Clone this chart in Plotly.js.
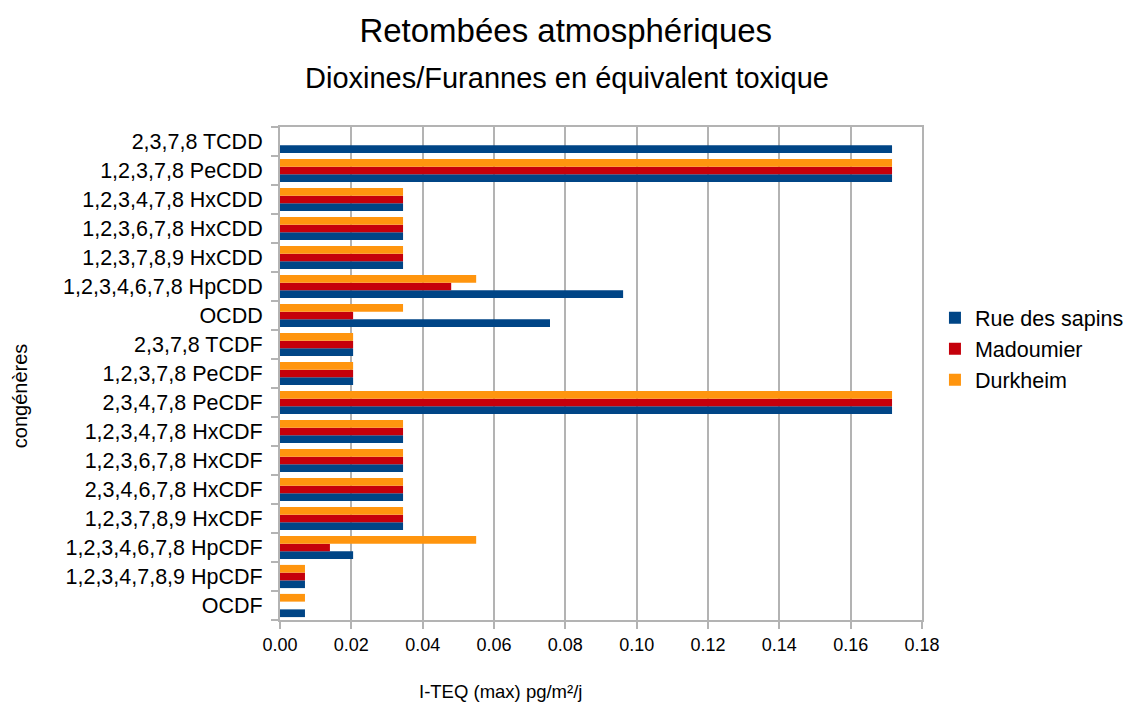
<!DOCTYPE html>
<html>
<head>
<meta charset="utf-8">
<script src="https://cdn.plot.ly/plotly-3.0.1.min.js"></script>
<style>html,body{margin:0;padding:0;background:#fff;}#chart{width:1127px;height:702px;}</style>
</head>
<body>
<div id="chart"></div>
<script>
const categories = [
  "2,3,7,8 TCDD", "1,2,3,7,8 PeCDD", "1,2,3,4,7,8 HxCDD", "1,2,3,6,7,8 HxCDD",
  "1,2,3,7,8,9 HxCDD", "1,2,3,4,6,7,8 HpCDD", "OCDD", "2,3,7,8 TCDF",
  "1,2,3,7,8 PeCDF", "2,3,4,7,8 PeCDF", "1,2,3,4,7,8 HxCDF", "1,2,3,6,7,8 HxCDF",
  "2,3,4,6,7,8 HxCDF", "1,2,3,7,8,9 HxCDF", "1,2,3,4,6,7,8 HpCDF", "1,2,3,4,7,8,9 HpCDF", "OCDF"
];
const rueDesSapins = [0.1716, 0.1716, 0.0345, 0.0345, 0.0345, 0.0962, 0.0757, 0.0205,
  0.0205, 0.1716, 0.0345, 0.0345, 0.0345, 0.0345, 0.0205, 0.007, 0.007];
const madoumier = [null, 0.1716, 0.0345, 0.0345, 0.0345, 0.048, 0.0205, 0.0205,
  0.0205, 0.1716, 0.0345, 0.0345, 0.0345, 0.0345, 0.014, 0.007, null];
const durkheim = [null, 0.1716, 0.0345, 0.0345, 0.0345, 0.055, 0.0345, 0.0205,
  0.0205, 0.1716, 0.0345, 0.0345, 0.0345, 0.0345, 0.055, 0.007, 0.007];
const seriesNames = ["Rue des sapins", "Madoumier", "Durkheim"];
const seriesColors = ["#004586", "#c5000b", "#ff950e"];
const xTickVals = [0, 0.02, 0.04, 0.06, 0.08, 0.10, 0.12, 0.14, 0.16, 0.18];
const xTickText = ["0.00", "0.02", "0.04", "0.06", "0.08", "0.10", "0.12", "0.14", "0.16", "0.18"];

const values = [rueDesSapins, madoumier, durkheim];
const traces = values.map((v, i) => ({
  type: "bar", orientation: "h", name: seriesNames[i],
  x: v, y: categories, marker: {color: seriesColors[i]},
  hoverinfo: "x+y+name"
}));

const font = {family: "Liberation Sans, Arial, sans-serif", color: "#000"};
const layout = {
  width: 1127, height: 702,
  paper_bgcolor: "#fff", plot_bgcolor: "#fff",
  font: Object.assign({size: 16}, font),
  margin: {l: 280, r: 205, t: 127, b: 82, autoexpand: false},
  barmode: "group", bargap: 0.2, bargroupgap: 0,
  title: {text: "Retombées atmosphériques", x: 0.502, xref: "container", xanchor: "center", y: 0.957, yanchor: "middle",
    font: Object.assign({}, font, {size: 33})},
  annotations: [{
    text: "Dioxines/Furannes en équivalent toxique", xref: "paper", yref: "paper",
    x: 0.447, y: 1, xanchor: "center", yanchor: "middle", yshift: 49, showarrow: false,
    font: Object.assign({}, font, {size: 29})
  }, {
    text: "I-TEQ (max) pg/m²/j", xref: "paper", yref: "paper",
    x: 0.344, y: -0.146, xanchor: "center", yanchor: "middle", showarrow: false,
    font: Object.assign({}, font, {size: 18.5})
  }, {
    text: "congénères", xref: "paper", yref: "paper", textangle: -90,
    x: -0.405, y: 0.456, xanchor: "center", yanchor: "middle", showarrow: false,
    font: Object.assign({}, font, {size: 20})
  }],
  xaxis: {
    range: [0, 0.18], tickvals: xTickVals, ticktext: xTickText,
    showgrid: true, gridcolor: "#b3b3b3", gridwidth: 2,
    showline: true, linecolor: "#b3b3b3", linewidth: 2, mirror: true,
    ticks: "outside", ticklen: 7, tickcolor: "#b3b3b3", tickwidth: 2,
    zeroline: false, tickfont: Object.assign({}, font, {size: 18}),
    automargin: false
  },
  yaxis: {
    type: "category", categoryorder: "array", categoryarray: categories.slice().reverse(),
    showline: true, linecolor: "#b3b3b3", linewidth: 2, mirror: true,
    ticks: "outside", tickson: "boundaries", ticklen: 7, tickcolor: "#b3b3b3", tickwidth: 2,
    showgrid: false, tickfont: Object.assign({}, font, {size: 21.5}),
    ticklabelstandoff: 11, automargin: false
  },
  legend: {x: 0.8296, xref: "container", xanchor: "left", y: 0.55, yanchor: "middle",
    font: Object.assign({}, font, {size: 21.5}), itemwidth: 30},
  showlegend: true
};

Plotly.newPlot("chart", traces, layout, {displayModeBar: false, staticPlot: true});
</script>
</body>
</html>
